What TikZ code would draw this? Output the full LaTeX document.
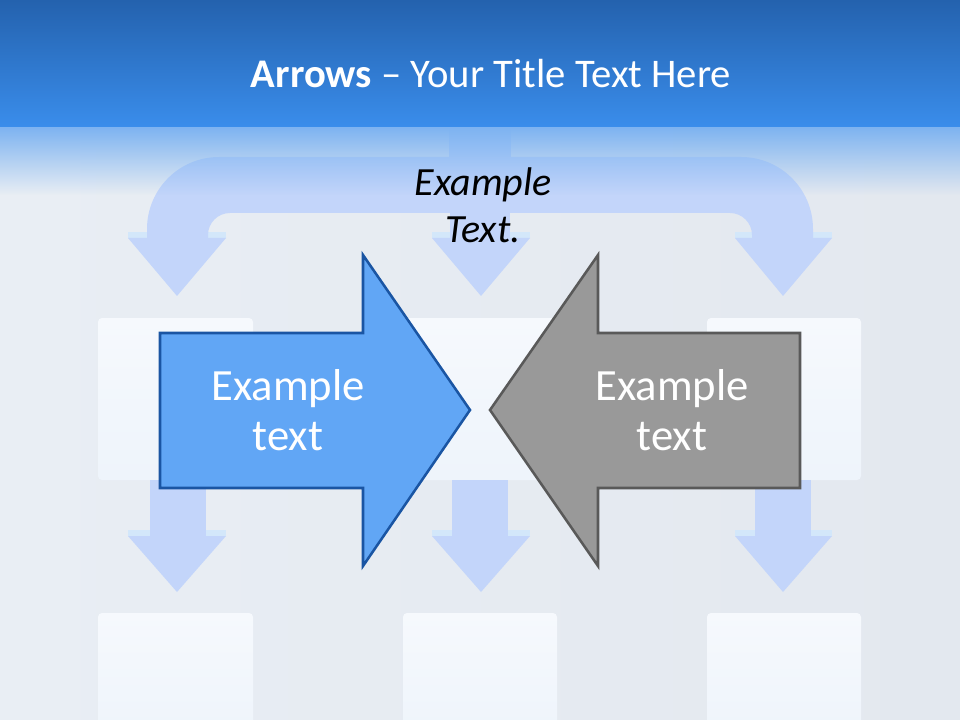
\documentclass[tikz,border=0pt]{standalone}
\usepackage{fontspec}
\setmainfont{Carlito}
\usetikzlibrary{fadings}
\definecolor{bandtop}{HTML}{2462AE}
\definecolor{bandbot}{HTML}{3A8DEB}
\definecolor{fadeblue}{HTML}{7DB3F1}
\definecolor{bgleft}{HTML}{E9EEF4}
\definecolor{bgright}{HTML}{E3E8EF}
\definecolor{pale}{HTML}{C3D5FA}
\definecolor{paleedge}{HTML}{D3E7FA}
\definecolor{boxtop}{HTML}{F6F9FD}
\definecolor{boxbot}{HTML}{EEF4FB}
\definecolor{bluefill}{HTML}{61A6F5}
\definecolor{blueline}{HTML}{1A55A3}
\definecolor{grayfill}{HTML}{999999}
\definecolor{grayline}{HTML}{595959}
\tikzfading[name=fadedown, top color=transparent!0, bottom color=transparent!100]
\tikzstyle{box}=[top color=boxtop, bottom color=boxbot, rounded corners=3pt]
\tikzstyle{stem}=[fill=pale]
\tikzstyle{shoulder}=[fill=paleedge]
\tikzstyle{bigarrow}=[line width=1.9pt, line join=miter]
\tikzstyle{arrowtext}=[text=white, align=center, font=\fontsize{33.5}{38}\selectfont]

\begin{document}
\begin{tikzpicture}[x=0.75pt, y=-0.75pt]
	\useasboundingbox (0,0) rectangle (960,720);
	% background
	\shade[left color=bgleft, middle color=bgleft, right color=bgright] (0,0) rectangle (960,720);
	% pale boxes
	\shade[box] (98,318) rectangle (253,480);
	\shade[box] (403,318) rectangle (557,480);
	\shade[box] (707,318) rectangle (861,480);
	\shade[box] (98,613) rectangle (253,740);
	\shade[box] (403,613) rectangle (557,740);
	\shade[box] (707,613) rectangle (861,740);
	% pale arrows, top row
	\fill[shoulder] (128,232) rectangle (226,238);
	\fill[shoulder] (432,232) rectangle (530,238);
	\fill[shoulder] (735,232) rectangle (832,238);
	\fill[stem] (449,100) rectangle (511,170);
	\fill[stem] (147,238) -- (147,229) arc(180:270:72) -- (741,157) arc(270:360:72)
		-- (813,238) -- (752,238) -- (752,235) arc(0:-90:22) -- (230,213)
		arc(270:180:22) -- (208,238) -- cycle;
	\fill[stem] (450,205) rectangle (510,238);
	\fill[stem] (128,238) -- (226,238) -- (177,296) -- cycle;
	\fill[stem] (432,238) -- (530,238) -- (481,296) -- cycle;
	\fill[stem] (735,238) -- (832,238) -- (783,296) -- cycle;
	% pale arrows, bottom row
	\fill[shoulder] (128,530) rectangle (226,536);
	\fill[shoulder] (432,530) rectangle (530,536);
	\fill[shoulder] (735,530) rectangle (832,536);
	\fill[stem] (150,480) rectangle (206,536);
	\fill[stem] (452,480) rectangle (508,536);
	\fill[stem] (755,480) rectangle (811,536);
	\fill[stem] (128,536) -- (226,536) -- (177,592) -- cycle;
	\fill[stem] (432,536) -- (530,536) -- (481,592) -- cycle;
	\fill[stem] (735,536) -- (832,536) -- (783,592) -- cycle;
	% title band
	\shade[top color=bandtop, bottom color=bandbot] (0,0) rectangle (960,127);
	\fill[fadeblue, path fading=fadedown] (0,127) rectangle (960,195);
	% the two arrows
	\draw[bigarrow, fill=bluefill, draw=blueline] (160,333) -- (363,333) -- (363,255)
		-- (470,410) -- (363,566) -- (363,488) -- (160,488) -- cycle;
	\draw[bigarrow, fill=grayfill, draw=grayline] (800,333) -- (598,333) -- (598,255)
		-- (490,410) -- (598,566) -- (598,488) -- (800,488) -- cycle;
	\node[arrowtext] (l) at (288,410) {Example\\text};
	\node[arrowtext] (r) at (672,410) {Example\\text};
	\node[align=center, font=\fontsize{30}{35}\selectfont\itshape] (e) at (483,205) {Example\\Text.};
	\node[text=white, anchor=base, font=\fontsize{30.5}{36}\selectfont] (t) at (491,88) {\textbf{Arrows} – Your Title Text Here};
\end{tikzpicture}
\end{document}
